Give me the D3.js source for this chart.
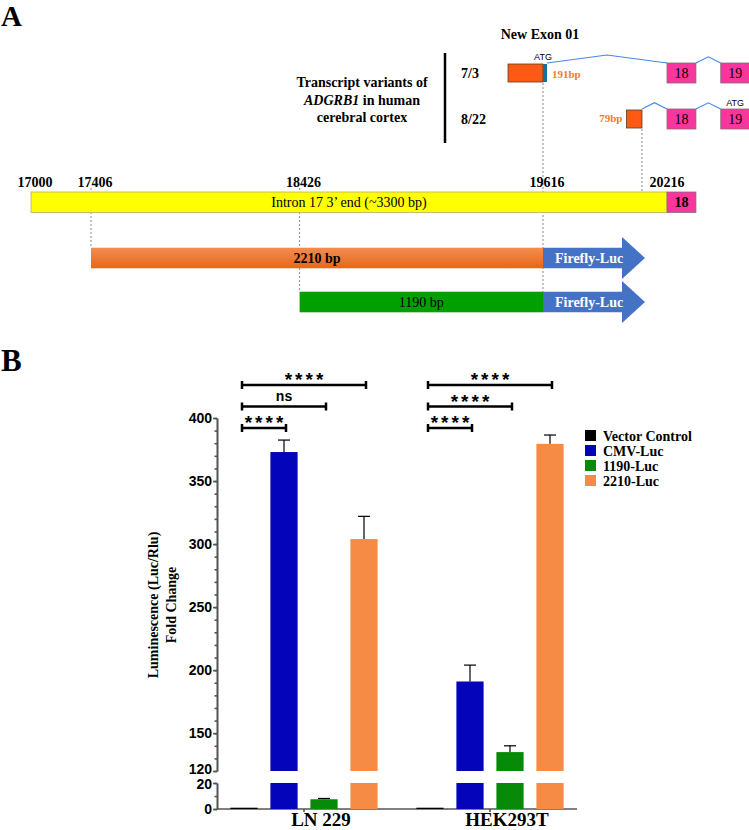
<!DOCTYPE html>
<html>
<head>
<meta charset="utf-8">
<script src="https://cdn.jsdelivr.net/npm/d3@7"></script>
<style>
body { margin: 0; background: #fff; }
svg { display: block; }
</style>
</head>
<body>
<div id="root"></div>
<script>
"use strict";

// ---- panel A data (genomic positions, bp) ----
const genomePositions = [17000, 17406, 18426, 19616, 20216];
const constructNames = ["2210 bp", "1190 bp"];
const constructStarts = [17406, 18426];
const constructEnd = 19616;
const variantNames = ["7/3", "8/22"];
const variantExon01 = [[19445, 19616], [20020, 20095]];
const variantExon01Size = ["191bp", "79bp"];
const exon18 = [20216, 20356];
const exon19 = [20476, 20616];

// ---- panel B data ----
const groups = ["LN 229", "HEK293T"];
const series = ["Vector Control", "CMV-Luc", "1190-Luc", "2210-Luc"];
const ln229Means = [1, 373, 7.5, 304];
const ln229Errors = [0, 9.5, 0.6, 18];
const hek293tMeans = [1, 191, 135, 379.5];
const hek293tErrors = [0, 13, 5, 7];
const upperTicks = [120, 150, 200, 250, 300, 350, 400];
const lowerTicks = [0, 20];
const compareTargets = ["CMV-Luc", "1190-Luc", "2210-Luc"];
const ln229Stars = ["****", "ns", "****"];
const hek293tStars = ["****", "****", "****"];

const serif = "'Liberation Serif', 'Times New Roman', serif";
const sans = "'Liberation Sans', Arial, sans-serif";

const svg = d3.select("#root").append("svg")
    .attr("width", 749)
    .attr("height", 830)
    .style("font-family", serif);

drawPanelA();
drawPanelB();

function drawPanelA () {
    const xg = d3.scaleLinear()
        .domain([17000, 17406, 19616, 20216])
        .range([31, 91, 543, 667]);

    svg.append("text")
        .attr("x", 1).attr("y", 26)
        .attr("font-size", 29).attr("font-weight", "bold")
        .text("A");

    svg.append("text")
        .attr("x", 540).attr("y", 39)
        .attr("text-anchor", "middle")
        .attr("font-size", 14).attr("font-weight", "bold")
        .text("New Exon 01");

    // transcript label block
    const lab = svg.append("text")
        .attr("text-anchor", "middle")
        .attr("font-size", 14).attr("font-weight", "bold");
    lab.append("tspan").attr("x", 362).attr("y", 87).text("Transcript variants of");
    const l2 = lab.append("tspan").attr("x", 362).attr("y", 105);
    l2.append("tspan").attr("font-style", "italic").text("ADGRB1");
    l2.append("tspan").text(" in human");
    lab.append("tspan").attr("x", 362).attr("y", 122).text("cerebral cortex");

    svg.append("line")
        .attr("x1", 445).attr("x2", 445)
        .attr("y1", 53).attr("y2", 143)
        .attr("stroke", "#000").attr("stroke-width", 2.5);

    const dotted = (x, y1, y2) => svg.append("line")
        .attr("x1", x).attr("x2", x).attr("y1", y1).attr("y2", y2)
        .attr("stroke", "#8a8a8a").attr("stroke-width", 1)
        .attr("stroke-dasharray", "2,2");

    const rowY = [63, 109];
    const rowH = 20;

    // dotted guides (drawn first, bars cover them)
    dotted(xg(genomePositions[1]), 188, 248);
    dotted(xg(genomePositions[2]), 188, 292);
    dotted(xg(variantExon01[0][1]), rowY[0] + rowH, 292);
    dotted(xg(variantExon01[1][1]), rowY[1] + rowH, 192);

    // transcript variants
    variantNames.forEach((name, i) => {
        const y = rowY[i];
        const g = svg.append("g");
        g.append("text")
            .attr("x", 461).attr("y", y + 15)
            .attr("font-size", 14).attr("font-weight", "bold")
            .text(name);

        const e1 = variantExon01[i];
        const exEnd = i === 0 ? xg(e1[1]) + 4 : xg(e1[1]);
        const boxes = [[xg(exon18[0]), xg(exon18[1])], [xg(exon19[0]), xg(exon19[1])]];
        // intron connectors
        const starts = [exEnd, boxes[0][1]];
        const ends = [boxes[0][0], boxes[1][0]];
        starts.forEach((s, k) => {
            const e = ends[k];
            const h = Math.min(8, (e - s) / 4);
            g.append("path")
                .attr("d", `M${s},${y}L${(s + e) / 2},${y - h}L${e},${y}`)
                .attr("fill", "none")
                .attr("stroke", "#4a86e8").attr("stroke-width", 1.2);
        });

        g.append("rect")
            .attr("x", xg(e1[0])).attr("y", y + 1)
            .attr("width", xg(e1[1]) - xg(e1[0])).attr("height", rowH - 2)
            .attr("fill", "#ff5a14").attr("stroke", "#5a3a2a").attr("stroke-width", 0.8);
        if (i === 0) {
            g.append("rect")
                .attr("x", xg(e1[1])).attr("y", y + 1)
                .attr("width", 4).attr("height", rowH - 2)
                .attr("fill", "#1a6e9e");
            g.append("text")
                .attr("x", xg(e1[1])).attr("y", y - 3)
                .attr("text-anchor", "middle")
                .attr("font-family", sans).attr("font-size", 9)
                .text("ATG");
            g.append("text")
                .attr("x", exEnd + 5).attr("y", y + 15)
                .attr("font-size", 11).attr("font-weight", "bold")
                .attr("fill", "#f47a2e")
                .text(variantExon01Size[i]);
        } else {
            g.append("text")
                .attr("x", xg(e1[0]) - 4).attr("y", y + 13)
                .attr("text-anchor", "end")
                .attr("font-size", 11).attr("font-weight", "bold")
                .attr("fill", "#f47a2e")
                .text(variantExon01Size[i]);
            g.append("text")
                .attr("x", (boxes[1][0] + boxes[1][1]) / 2).attr("y", y - 3)
                .attr("text-anchor", "middle")
                .attr("font-family", sans).attr("font-size", 9)
                .text("ATG");
        }

        boxes.forEach((b, k) => {
            g.append("rect")
                .attr("x", b[0]).attr("y", y)
                .attr("width", b[1] - b[0]).attr("height", rowH)
                .attr("fill", "#f7379b").attr("stroke", "#8a6a7a").attr("stroke-width", 0.8);
            g.append("text")
                .attr("x", (b[0] + b[1]) / 2).attr("y", y + 15)
                .attr("text-anchor", "middle")
                .attr("font-size", 14)
                .text(k === 0 ? "18" : "19");
        });
    });

    // genomic position labels
    svg.append("g").selectAll("text")
        .data(genomePositions)
        .join("text")
        .attr("x", (d) => xg(d) + (d === 20216 ? 0 : 4))
        .attr("y", 187)
        .attr("text-anchor", "middle")
        .attr("font-size", 14).attr("font-weight", "bold")
        .text((d) => d);

    // intron bar
    svg.append("rect")
        .attr("x", xg(genomePositions[0])).attr("y", 192)
        .attr("width", xg(genomePositions[4]) - xg(genomePositions[0]))
        .attr("height", 20.5)
        .attr("fill", "#ffff00").attr("stroke", "#b5ad6a").attr("stroke-width", 0.8);
    svg.append("rect")
        .attr("x", xg(exon18[0])).attr("y", 192)
        .attr("width", xg(exon18[1]) - xg(exon18[0])).attr("height", 20.5)
        .attr("fill", "#f7379b").attr("stroke", "#8a6a7a").attr("stroke-width", 0.8);
    svg.append("text")
        .attr("x", (xg(genomePositions[0]) + xg(genomePositions[4])) / 2).attr("y", 207)
        .attr("text-anchor", "middle").attr("font-size", 14)
        .text("Intron 17 3\u2019 end (~3300 bp)");
    svg.append("text")
        .attr("x", (xg(exon18[0]) + xg(exon18[1])) / 2).attr("y", 207)
        .attr("text-anchor", "middle").attr("font-size", 14).attr("font-weight", "bold")
        .text("18");

    // constructs
    const defs = svg.append("defs");
    const grad = defs.append("linearGradient")
        .attr("id", "orangeGrad").attr("x1", 0).attr("x2", 0).attr("y1", 0).attr("y2", 1);
    grad.append("stop").attr("offset", "0%").attr("stop-color", "#f28d50");
    grad.append("stop").attr("offset", "100%").attr("stop-color", "#e8661a");

    const conY = [247.7, 291.7];
    const conFill = ["url(#orangeGrad)", "#00a000"];
    constructNames.forEach((name, i) => {
        const y = conY[i];
        const h = 20.6;
        const x1 = xg(constructStarts[i]);
        const x2 = xg(constructEnd);
        svg.append("rect")
            .attr("x", x1).attr("y", y)
            .attr("width", x2 - x1).attr("height", h)
            .attr("fill", conFill[i]);
        svg.append("text")
            .attr("x", (x1 + x2) / 2).attr("y", y + 15)
            .attr("text-anchor", "middle")
            .attr("font-size", 14)
            .attr("font-weight", i === 0 ? "bold" : "normal")
            .text(name);
        const hx = x2 + 79, tip = x2 + 102, my = y + h / 2;
        svg.append("path")
            .attr("d", `M${x2},${y}H${hx}V${my - 21}L${tip},${my}L${hx},${my + 21}V${y + h}H${x2}Z`)
            .attr("fill", "#4472c4");
        svg.append("text")
            .attr("x", x2 + 12).attr("y", y + 15)
            .attr("font-size", 14).attr("font-weight", "bold")
            .attr("fill", "#fff")
            .text("Firefly-Luc");
    });
}

function drawPanelB () {
    svg.append("text")
        .attr("x", 1).attr("y", 371)
        .attr("font-size", 31).attr("font-weight", "bold")
        .text("B");

    const colors = d3.scaleOrdinal()
        .domain(series)
        .range(["#000000", "#0404bb", "#078a07", "#f68b45"]);

    const yTop = d3.scaleLinear().domain([120, 400]).range([771, 418]);
    const yBot = d3.scaleLinear().domain([0, 20]).range([809, 783]);
    const x0 = d3.scaleBand().domain(groups).range([211, 583]);
    const x1 = d3.scaleBand().domain(series).range([-80, 80])
        .paddingInner(0.32).paddingOuter(0.16);

    const data = [];
    groups.forEach((grp, gi) => {
        const means = gi === 0 ? ln229Means : hek293tMeans;
        const errs = gi === 0 ? ln229Errors : hek293tErrors;
        series.forEach((s, si) => {
            data.push({ group: grp, series: s, value: means[si], err: errs[si] });
        });
    });

    const yOf = (v) => v > 20 ? yTop(Math.max(v, 120)) : yBot(v);
    const xOf = (d) => x0(d.group) + x0.bandwidth() / 2 + x1(d.series);

    // axes
    const axisColor = "#555";
    const styleAxis = (g) => {
        g.selectAll("path,line").attr("stroke", axisColor).attr("stroke-width", 1.6);
        g.selectAll("text")
            .attr("font-family", sans).attr("font-weight", "bold")
            .attr("font-size", 14).attr("fill", "#000");
    };
    const ax = 217;
    svg.append("g")
        .attr("transform", `translate(${ax},0)`)
        .call(d3.axisLeft(yTop).tickValues(d3.range(120, 401, 10))
            .tickSize(2.5).tickSizeOuter(0).tickFormat(""))
        .call(styleAxis);
    svg.append("g")
        .attr("transform", `translate(${ax},0)`)
        .call(d3.axisLeft(yTop).tickValues(upperTicks)
            .tickSize(4).tickSizeOuter(0).tickPadding(1))
        .call(styleAxis)
        .selectAll(".tick text").attr("dy", (d) => d === 120 ? "0.2em" : "0.32em");
    svg.append("g")
        .attr("transform", `translate(${ax},0)`)
        .call(d3.axisLeft(yBot).tickValues(d3.range(0, 21, 10))
            .tickSize(2.5).tickSizeOuter(0).tickFormat(""))
        .call(styleAxis);
    svg.append("g")
        .attr("transform", `translate(${ax},0)`)
        .call(d3.axisLeft(yBot).tickValues(lowerTicks)
            .tickSize(4).tickSizeOuter(0).tickPadding(1))
        .call(styleAxis)
        .selectAll(".tick text").attr("dy", (d) => d === 20 ? "0.42em" : "0.32em");

    const xAxis = svg.append("g")
        .attr("transform", `translate(0,${yBot(0)})`)
        .call(d3.axisBottom(x0).tickSize(3).tickSizeOuter(0).tickFormat(""))
        .call(styleAxis);
    xAxis.select(".domain").attr("d", `M${ax},0H577`);

    svg.append("g").selectAll("text")
        .data(groups)
        .join("text")
        .attr("x", (d) => x0(d) + x0.bandwidth() / 2 + 17)
        .attr("y", 826)
        .attr("text-anchor", "middle")
        .attr("font-size", 19).attr("font-weight", "bold")
        .text((d) => d);

    // y title
    const yt = svg.append("g").attr("font-size", 14).attr("font-weight", "bold")
        .attr("text-anchor", "middle");
    yt.append("text")
        .attr("transform", "translate(158,605) rotate(-90)")
        .text("Luminescence (Luc/Rlu)");
    yt.append("text")
        .attr("transform", "translate(176,605) rotate(-90)")
        .text("Fold Change");

    // bars (broken axis)
    const bars = svg.append("g");
    data.forEach((d) => {
        const x = xOf(d);
        const w = x1.bandwidth();
        const lowTop = yBot(Math.min(d.value, 20));
        bars.append("rect")
            .attr("x", x).attr("y", lowTop)
            .attr("width", w).attr("height", Math.max(yBot(0) - lowTop, 1.2))
            .attr("fill", colors(d.series));
        if (d.value > 120) {
            bars.append("rect")
                .attr("x", x).attr("y", yTop(d.value))
                .attr("width", w).attr("height", yTop(120) - yTop(d.value))
                .attr("fill", colors(d.series));
        }
        if (d.err > 0) {
            const cx = x + w / 2;
            const yv = yOf(d.value);
            const ye = yOf(d.value + d.err);
            bars.append("line")
                .attr("x1", cx).attr("x2", cx).attr("y1", yv).attr("y2", ye)
                .attr("stroke", "#000").attr("stroke-width", 1.2);
            bars.append("line")
                .attr("x1", cx - 6).attr("x2", cx + 6).attr("y1", ye).attr("y2", ye)
                .attr("stroke", "#000").attr("stroke-width", 1.2);
        }
    });

    // significance brackets
    const sig = svg.append("g");
    groups.forEach((grp, gi) => {
        const labels = gi === 0 ? ln229Stars : hek293tStars;
        const cx = (s) => x0(grp) + x0.bandwidth() / 2 + x1(s) + x1.bandwidth() / 2;
        compareTargets.forEach((t, k) => {
            const y = 428 - k * 21.5;
            const xa = cx(series[0]) - 2;
            const xb = cx(t) + 2;
            sig.append("path")
                .attr("d", `M${xa},${y - 4}V${y + 4}M${xa},${y}H${xb}M${xb},${y - 4}V${y + 4}`)
                .attr("fill", "none").attr("stroke", "#000").attr("stroke-width", 2.5);
            const isNs = labels[k] === "ns";
            sig.append("text")
                .attr("x", (xa + xb) / 2 + (isNs ? 0 : 1.5))
                .attr("y", isNs ? y - 6 : y + 1)
                .attr("text-anchor", "middle")
                .attr("font-family", sans).attr("font-weight", "bold")
                .attr("font-size", isNs ? 14 : 19)
                .attr("letter-spacing", isNs ? 0 : 3)
                .text(labels[k]);
        });
    });

    // legend
    const leg = svg.append("g");
    series.forEach((s, i) => {
        leg.append("rect")
            .attr("x", 585).attr("y", 430 + i * 15)
            .attr("width", 11).attr("height", 11)
            .attr("fill", colors(s));
        leg.append("text")
            .attr("x", 603).attr("y", 441 + i * 15)
            .attr("font-size", 14).attr("font-weight", "bold")
            .text(s);
    });
}
</script>
</body>
</html>
